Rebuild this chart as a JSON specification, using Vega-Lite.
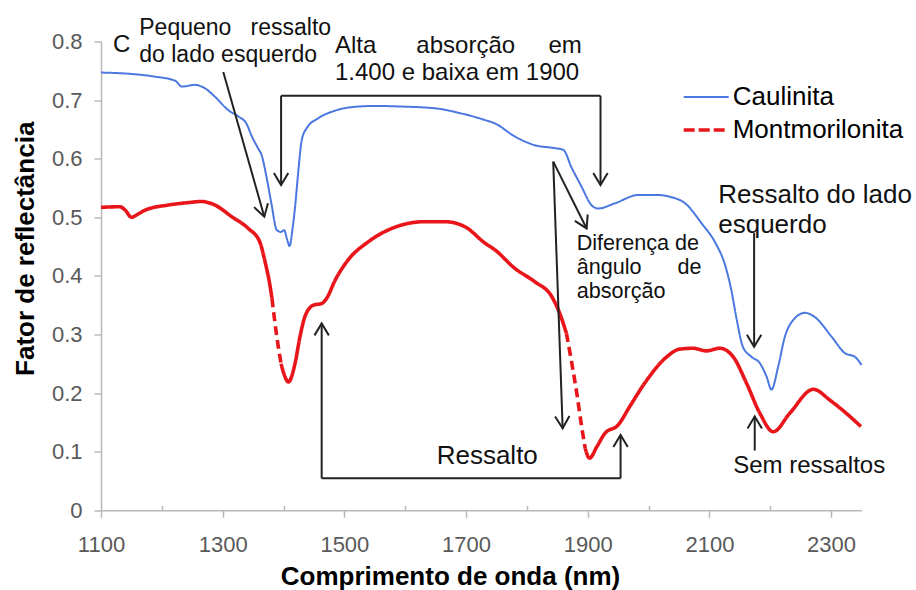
{
  "$schema": "https://vega.github.io/schema/vega-lite/v6.json",
  "autosize": {"type": "none"},
  "width": 760.5,
  "height": 468.8,
  "padding": {"left": 101, "top": 41.5, "right": 54.5, "bottom": 79.7},
  "background": "#ffffff",
  "config": {
    "view": {"stroke": null},
    "font": "Liberation Sans"
  },
  "datasets": {
    "espectros": [
      {"nm": 1100, "r": 0.747, "amostra": "Caulinita", "trecho": "c1", "traco": "continuo"},
      {"nm": 1145, "r": 0.745, "amostra": "Caulinita", "trecho": "c1", "traco": "continuo"},
      {"nm": 1189, "r": 0.740, "amostra": "Caulinita", "trecho": "c1", "traco": "continuo"},
      {"nm": 1222, "r": 0.733, "amostra": "Caulinita", "trecho": "c1", "traco": "continuo"},
      {"nm": 1233, "r": 0.723, "amostra": "Caulinita", "trecho": "c1", "traco": "continuo"},
      {"nm": 1254, "r": 0.726, "amostra": "Caulinita", "trecho": "c1", "traco": "continuo"},
      {"nm": 1271, "r": 0.720, "amostra": "Caulinita", "trecho": "c1", "traco": "continuo"},
      {"nm": 1287, "r": 0.706, "amostra": "Caulinita", "trecho": "c1", "traco": "continuo"},
      {"nm": 1309, "r": 0.683, "amostra": "Caulinita", "trecho": "c1", "traco": "continuo"},
      {"nm": 1326, "r": 0.672, "amostra": "Caulinita", "trecho": "c1", "traco": "continuo"},
      {"nm": 1339, "r": 0.660, "amostra": "Caulinita", "trecho": "c1", "traco": "continuo"},
      {"nm": 1348, "r": 0.638, "amostra": "Caulinita", "trecho": "c1", "traco": "continuo"},
      {"nm": 1358, "r": 0.618, "amostra": "Caulinita", "trecho": "c1", "traco": "continuo"},
      {"nm": 1364, "r": 0.606, "amostra": "Caulinita", "trecho": "c1", "traco": "continuo"},
      {"nm": 1372, "r": 0.569, "amostra": "Caulinita", "trecho": "c1", "traco": "continuo"},
      {"nm": 1380, "r": 0.524, "amostra": "Caulinita", "trecho": "c1", "traco": "continuo"},
      {"nm": 1389, "r": 0.478, "amostra": "Caulinita", "trecho": "c1", "traco": "continuo"},
      {"nm": 1396, "r": 0.475, "amostra": "Caulinita", "trecho": "c1", "traco": "continuo"},
      {"nm": 1401, "r": 0.478, "amostra": "Caulinita", "trecho": "c1", "traco": "continuo"},
      {"nm": 1406, "r": 0.462, "amostra": "Caulinita", "trecho": "c1", "traco": "continuo"},
      {"nm": 1410, "r": 0.451, "amostra": "Caulinita", "trecho": "c1", "traco": "continuo"},
      {"nm": 1415, "r": 0.482, "amostra": "Caulinita", "trecho": "c1", "traco": "continuo"},
      {"nm": 1419, "r": 0.518, "amostra": "Caulinita", "trecho": "c1", "traco": "continuo"},
      {"nm": 1424, "r": 0.575, "amostra": "Caulinita", "trecho": "c1", "traco": "continuo"},
      {"nm": 1430, "r": 0.632, "amostra": "Caulinita", "trecho": "c1", "traco": "continuo"},
      {"nm": 1438, "r": 0.652, "amostra": "Caulinita", "trecho": "c1", "traco": "continuo"},
      {"nm": 1457, "r": 0.669, "amostra": "Caulinita", "trecho": "c1", "traco": "continuo"},
      {"nm": 1485, "r": 0.682, "amostra": "Caulinita", "trecho": "c1", "traco": "continuo"},
      {"nm": 1512, "r": 0.688, "amostra": "Caulinita", "trecho": "c1", "traco": "continuo"},
      {"nm": 1550, "r": 0.690, "amostra": "Caulinita", "trecho": "c1", "traco": "continuo"},
      {"nm": 1594, "r": 0.689, "amostra": "Caulinita", "trecho": "c1", "traco": "continuo"},
      {"nm": 1649, "r": 0.686, "amostra": "Caulinita", "trecho": "c1", "traco": "continuo"},
      {"nm": 1693, "r": 0.677, "amostra": "Caulinita", "trecho": "c1", "traco": "continuo"},
      {"nm": 1731, "r": 0.666, "amostra": "Caulinita", "trecho": "c1", "traco": "continuo"},
      {"nm": 1748, "r": 0.660, "amostra": "Caulinita", "trecho": "c1", "traco": "continuo"},
      {"nm": 1780, "r": 0.638, "amostra": "Caulinita", "trecho": "c1", "traco": "continuo"},
      {"nm": 1813, "r": 0.623, "amostra": "Caulinita", "trecho": "c1", "traco": "continuo"},
      {"nm": 1846, "r": 0.618, "amostra": "Caulinita", "trecho": "c1", "traco": "continuo"},
      {"nm": 1860, "r": 0.615, "amostra": "Caulinita", "trecho": "c1", "traco": "continuo"},
      {"nm": 1873, "r": 0.586, "amostra": "Caulinita", "trecho": "c1", "traco": "continuo"},
      {"nm": 1890, "r": 0.552, "amostra": "Caulinita", "trecho": "c1", "traco": "continuo"},
      {"nm": 1906, "r": 0.521, "amostra": "Caulinita", "trecho": "c1", "traco": "continuo"},
      {"nm": 1917, "r": 0.515, "amostra": "Caulinita", "trecho": "c1", "traco": "continuo"},
      {"nm": 1945, "r": 0.524, "amostra": "Caulinita", "trecho": "c1", "traco": "continuo"},
      {"nm": 1983, "r": 0.538, "amostra": "Caulinita", "trecho": "c1", "traco": "continuo"},
      {"nm": 2016, "r": 0.538, "amostra": "Caulinita", "trecho": "c1", "traco": "continuo"},
      {"nm": 2035, "r": 0.535, "amostra": "Caulinita", "trecho": "c1", "traco": "continuo"},
      {"nm": 2060, "r": 0.524, "amostra": "Caulinita", "trecho": "c1", "traco": "continuo"},
      {"nm": 2087, "r": 0.490, "amostra": "Caulinita", "trecho": "c1", "traco": "continuo"},
      {"nm": 2110, "r": 0.456, "amostra": "Caulinita", "trecho": "c1", "traco": "continuo"},
      {"nm": 2125, "r": 0.421, "amostra": "Caulinita", "trecho": "c1", "traco": "continuo"},
      {"nm": 2136, "r": 0.376, "amostra": "Caulinita", "trecho": "c1", "traco": "continuo"},
      {"nm": 2145, "r": 0.325, "amostra": "Caulinita", "trecho": "c1", "traco": "continuo"},
      {"nm": 2155, "r": 0.279, "amostra": "Caulinita", "trecho": "c1", "traco": "continuo"},
      {"nm": 2169, "r": 0.262, "amostra": "Caulinita", "trecho": "c1", "traco": "continuo"},
      {"nm": 2183, "r": 0.251, "amostra": "Caulinita", "trecho": "c1", "traco": "continuo"},
      {"nm": 2194, "r": 0.228, "amostra": "Caulinita", "trecho": "c1", "traco": "continuo"},
      {"nm": 2202, "r": 0.206, "amostra": "Caulinita", "trecho": "c1", "traco": "continuo"},
      {"nm": 2213, "r": 0.245, "amostra": "Caulinita", "trecho": "c1", "traco": "continuo"},
      {"nm": 2224, "r": 0.296, "amostra": "Caulinita", "trecho": "c1", "traco": "continuo"},
      {"nm": 2238, "r": 0.325, "amostra": "Caulinita", "trecho": "c1", "traco": "continuo"},
      {"nm": 2257, "r": 0.337, "amostra": "Caulinita", "trecho": "c1", "traco": "continuo"},
      {"nm": 2273, "r": 0.330, "amostra": "Caulinita", "trecho": "c1", "traco": "continuo"},
      {"nm": 2301, "r": 0.296, "amostra": "Caulinita", "trecho": "c1", "traco": "continuo"},
      {"nm": 2323, "r": 0.268, "amostra": "Caulinita", "trecho": "c1", "traco": "continuo"},
      {"nm": 2339, "r": 0.262, "amostra": "Caulinita", "trecho": "c1", "traco": "continuo"},
      {"nm": 2350, "r": 0.248, "amostra": "Caulinita", "trecho": "c1", "traco": "continuo"},

      {"nm": 1100, "r": 0.517, "amostra": "Montmorilonita", "trecho": "m1", "traco": "continuo"},
      {"nm": 1131, "r": 0.518, "amostra": "Montmorilonita", "trecho": "m1", "traco": "continuo"},
      {"nm": 1140, "r": 0.512, "amostra": "Montmorilonita", "trecho": "m1", "traco": "continuo"},
      {"nm": 1150, "r": 0.500, "amostra": "Montmorilonita", "trecho": "m1", "traco": "continuo"},
      {"nm": 1160, "r": 0.505, "amostra": "Montmorilonita", "trecho": "m1", "traco": "continuo"},
      {"nm": 1172, "r": 0.512, "amostra": "Montmorilonita", "trecho": "m1", "traco": "continuo"},
      {"nm": 1211, "r": 0.521, "amostra": "Montmorilonita", "trecho": "m1", "traco": "continuo"},
      {"nm": 1243, "r": 0.525, "amostra": "Montmorilonita", "trecho": "m1", "traco": "continuo"},
      {"nm": 1265, "r": 0.527, "amostra": "Montmorilonita", "trecho": "m1", "traco": "continuo"},
      {"nm": 1287, "r": 0.521, "amostra": "Montmorilonita", "trecho": "m1", "traco": "continuo"},
      {"nm": 1315, "r": 0.501, "amostra": "Montmorilonita", "trecho": "m1", "traco": "continuo"},
      {"nm": 1342, "r": 0.481, "amostra": "Montmorilonita", "trecho": "m1", "traco": "continuo"},
      {"nm": 1361, "r": 0.458, "amostra": "Montmorilonita", "trecho": "m1", "traco": "continuo"},
      {"nm": 1369, "r": 0.427, "amostra": "Montmorilonita", "trecho": "m1", "traco": "continuo"},
      {"nm": 1378, "r": 0.382, "amostra": "Montmorilonita", "trecho": "m1", "traco": "continuo"},
      {"nm": 1381, "r": 0.362, "amostra": "Montmorilonita", "trecho": "m1", "traco": "continuo"},
      {"nm": 1381, "r": 0.362, "amostra": "Montmorilonita", "trecho": "m2", "traco": "tracejado"},
      {"nm": 1389, "r": 0.296, "amostra": "Montmorilonita", "trecho": "m2", "traco": "tracejado"},
      {"nm": 1396, "r": 0.250, "amostra": "Montmorilonita", "trecho": "m2", "traco": "tracejado"},
      {"nm": 1396, "r": 0.250, "amostra": "Montmorilonita", "trecho": "m3", "traco": "continuo"},
      {"nm": 1401, "r": 0.232, "amostra": "Montmorilonita", "trecho": "m3", "traco": "continuo"},
      {"nm": 1408, "r": 0.219, "amostra": "Montmorilonita", "trecho": "m3", "traco": "continuo"},
      {"nm": 1419, "r": 0.251, "amostra": "Montmorilonita", "trecho": "m3", "traco": "continuo"},
      {"nm": 1427, "r": 0.296, "amostra": "Montmorilonita", "trecho": "m3", "traco": "continuo"},
      {"nm": 1435, "r": 0.330, "amostra": "Montmorilonita", "trecho": "m3", "traco": "continuo"},
      {"nm": 1449, "r": 0.350, "amostra": "Montmorilonita", "trecho": "m3", "traco": "continuo"},
      {"nm": 1463, "r": 0.353, "amostra": "Montmorilonita", "trecho": "m3", "traco": "continuo"},
      {"nm": 1471, "r": 0.362, "amostra": "Montmorilonita", "trecho": "m3", "traco": "continuo"},
      {"nm": 1485, "r": 0.393, "amostra": "Montmorilonita", "trecho": "m3", "traco": "continuo"},
      {"nm": 1506, "r": 0.427, "amostra": "Montmorilonita", "trecho": "m3", "traco": "continuo"},
      {"nm": 1539, "r": 0.458, "amostra": "Montmorilonita", "trecho": "m3", "traco": "continuo"},
      {"nm": 1583, "r": 0.483, "amostra": "Montmorilonita", "trecho": "m3", "traco": "continuo"},
      {"nm": 1632, "r": 0.4925, "amostra": "Montmorilonita", "trecho": "m3", "traco": "continuo"},
      {"nm": 1665, "r": 0.4925, "amostra": "Montmorilonita", "trecho": "m3", "traco": "continuo"},
      {"nm": 1698, "r": 0.484, "amostra": "Montmorilonita", "trecho": "m3", "traco": "continuo"},
      {"nm": 1731, "r": 0.456, "amostra": "Montmorilonita", "trecho": "m3", "traco": "continuo"},
      {"nm": 1748, "r": 0.444, "amostra": "Montmorilonita", "trecho": "m3", "traco": "continuo"},
      {"nm": 1780, "r": 0.413, "amostra": "Montmorilonita", "trecho": "m3", "traco": "continuo"},
      {"nm": 1813, "r": 0.390, "amostra": "Montmorilonita", "trecho": "m3", "traco": "continuo"},
      {"nm": 1841, "r": 0.3645, "amostra": "Montmorilonita", "trecho": "m3", "traco": "continuo"},
      {"nm": 1854, "r": 0.336, "amostra": "Montmorilonita", "trecho": "m3", "traco": "continuo"},
      {"nm": 1865, "r": 0.302, "amostra": "Montmorilonita", "trecho": "m3", "traco": "continuo"},
      {"nm": 1865, "r": 0.302, "amostra": "Montmorilonita", "trecho": "m4", "traco": "tracejado"},
      {"nm": 1873, "r": 0.256, "amostra": "Montmorilonita", "trecho": "m4", "traco": "tracejado"},
      {"nm": 1882, "r": 0.200, "amostra": "Montmorilonita", "trecho": "m4", "traco": "tracejado"},
      {"nm": 1890, "r": 0.143, "amostra": "Montmorilonita", "trecho": "m4", "traco": "tracejado"},
      {"nm": 1896, "r": 0.105, "amostra": "Montmorilonita", "trecho": "m4", "traco": "tracejado"},
      {"nm": 1896, "r": 0.105, "amostra": "Montmorilonita", "trecho": "m5", "traco": "continuo"},
      {"nm": 1903, "r": 0.089, "amostra": "Montmorilonita", "trecho": "m5", "traco": "continuo"},
      {"nm": 1915, "r": 0.1085, "amostra": "Montmorilonita", "trecho": "m5", "traco": "continuo"},
      {"nm": 1928, "r": 0.131, "amostra": "Montmorilonita", "trecho": "m5", "traco": "continuo"},
      {"nm": 1950, "r": 0.1456, "amostra": "Montmorilonita", "trecho": "m5", "traco": "continuo"},
      {"nm": 1969, "r": 0.177, "amostra": "Montmorilonita", "trecho": "m5", "traco": "continuo"},
      {"nm": 1997, "r": 0.222, "amostra": "Montmorilonita", "trecho": "m5", "traco": "continuo"},
      {"nm": 2030, "r": 0.262, "amostra": "Montmorilonita", "trecho": "m5", "traco": "continuo"},
      {"nm": 2051, "r": 0.275, "amostra": "Montmorilonita", "trecho": "m5", "traco": "continuo"},
      {"nm": 2073, "r": 0.2765, "amostra": "Montmorilonita", "trecho": "m5", "traco": "continuo"},
      {"nm": 2095, "r": 0.272, "amostra": "Montmorilonita", "trecho": "m5", "traco": "continuo"},
      {"nm": 2117, "r": 0.2765, "amostra": "Montmorilonita", "trecho": "m5", "traco": "continuo"},
      {"nm": 2139, "r": 0.262, "amostra": "Montmorilonita", "trecho": "m5", "traco": "continuo"},
      {"nm": 2161, "r": 0.217, "amostra": "Montmorilonita", "trecho": "m5", "traco": "continuo"},
      {"nm": 2183, "r": 0.1655, "amostra": "Montmorilonita", "trecho": "m5", "traco": "continuo"},
      {"nm": 2205, "r": 0.134, "amostra": "Montmorilonita", "trecho": "m5", "traco": "continuo"},
      {"nm": 2232, "r": 0.1655, "amostra": "Montmorilonita", "trecho": "m5", "traco": "continuo"},
      {"nm": 2271, "r": 0.2065, "amostra": "Montmorilonita", "trecho": "m5", "traco": "continuo"},
      {"nm": 2298, "r": 0.188, "amostra": "Montmorilonita", "trecho": "m5", "traco": "continuo"},
      {"nm": 2325, "r": 0.1655, "amostra": "Montmorilonita", "trecho": "m5", "traco": "continuo"},
      {"nm": 2349, "r": 0.143, "amostra": "Montmorilonita", "trecho": "m5", "traco": "continuo"}
    ],
    "setas": [
      {"x": 1301, "y": 0.748, "x2": 1368.4, "y2": 0.501, "ponta": true},
      {"x": 1396, "y": 0.7075, "x2": 1396, "y2": 0.555, "ponta": true},
      {"x": 1396, "y": 0.7075, "x2": 1921, "y2": 0.7075, "ponta": false},
      {"x": 1921, "y": 0.7075, "x2": 1921, "y2": 0.555, "ponta": true},
      {"x": 1843.3, "y": 0.595, "x2": 1898.2, "y2": 0.481, "ponta": true},
      {"x": 1843.3, "y": 0.595, "x2": 1858.8, "y2": 0.140, "ponta": true},
      {"x": 1462.7, "y": 0.0546, "x2": 1462.7, "y2": 0.319, "ponta": true},
      {"x": 1462.7, "y": 0.0546, "x2": 1954, "y2": 0.0546, "ponta": false},
      {"x": 1954, "y": 0.0546, "x2": 1954, "y2": 0.1285, "ponta": true},
      {"x": 2173.5, "y": 0.473, "x2": 2173.5, "y2": 0.279, "ponta": true},
      {"x": 2174.5, "y": 0.102, "x2": 2174.5, "y2": 0.160, "ponta": true}
    ],
    "textos": [
      {"nm": 1119.7, "r": 0.782, "texto": "C", "grupo": "g24"},
      {"nm": 1162.9, "r": 0.811, "texto": "Pequeno\u00a0\u00a0\u00a0ressalto\ndo lado esquerdo", "grupo": "g23"},
      {"nm": 1484.6, "r": 0.781, "texto": "Alta\u00a0\u00a0\u00a0\u00a0\u00a0\u00a0absorção\u00a0\u00a0\u00a0\u00a0\u00a0em\n1.400 e baixa em 1900", "grupo": "g24"},
      {"nm": 2114.5, "r": 0.524, "texto": "Ressalto do lado\nesquerdo", "grupo": "g26"},
      {"nm": 1881.8, "r": 0.4442, "texto": "Diferença de\nângulo\u00a0\u00a0\u00a0\u00a0\u00a0\u00a0de\nabsorção", "grupo": "g21"},
      {"nm": 1651.7, "r": 0.079, "texto": "Ressalto", "grupo": "g26"},
      {"nm": 2139, "r": 0.0631, "texto": "Sem ressaltos", "grupo": "g24"}
    ]
  },
  "layer": [
    {
      "data": {"name": "espectros"},
      "mark": {"type": "line", "interpolate": "monotone", "strokeCap": "butt"},
      "encoding": {
        "x": {
          "field": "nm", "type": "quantitative",
          "scale": {"domain": [1100, 2350], "nice": false, "zero": false},
          "axis": {
            "values": [1100, 1150, 1200, 1250, 1300, 1350, 1400, 1450, 1500, 1550, 1600, 1650, 1700, 1750, 1800, 1850, 1900, 1950, 2000, 2050, 2100, 2150, 2200, 2250, 2300, 2350],
            "labelExpr": "datum.value % 200 == 100 ? datum.label : ''",
            "format": "d",
            "grid": false,
            "title": "Comprimento de onda (nm)",
            "titleFont": "Liberation Sans", "titleFontWeight": "bold", "titleFontSize": 26, "titleColor": "#000000",
            "titleX": 349, "titleY": 74, "titleBaseline": "alphabetic", "titleAlign": "center", "titleAnchor": null,
            "labelFont": "Liberation Sans", "labelFontSize": 22, "labelColor": "#595959",
            "labelBaseline": "alphabetic", "labelPadding": 33.7, "labelFlush": false, "labelOverlap": false,
            "tickSize": {"condition": {"test": "datum.value % 200 == 100", "value": 7}, "value": -5},
            "tickColor": "#b8b8b8", "tickWidth": 1.5,
            "domainColor": "#b8b8b8", "domainWidth": 1.5
          }
        },
        "y": {
          "field": "r", "type": "quantitative",
          "scale": {"domain": [0, 0.8], "nice": false},
          "axis": {
            "values": [0, 0.1, 0.2, 0.3, 0.4, 0.5, 0.6, 0.7, 0.8],
            "format": ".1~f",
            "grid": false,
            "title": "Fator de reflectância",
            "titleFont": "Liberation Sans", "titleFontWeight": "bold", "titleFontSize": 26, "titleColor": "#000000",
            "titleAngle": -90, "titleX": -68, "titleY": 206.8, "titleBaseline": "alphabetic", "titleAlign": "center", "titleAnchor": null,
            "labelFont": "Liberation Sans", "labelFontSize": 22, "labelColor": "#595959",
            "labelPadding": 12, "labelFlush": false, "labelOverlap": false,
            "tickSize": 7, "tickColor": "#b8b8b8", "tickWidth": 1.5,
            "domainColor": "#b8b8b8", "domainWidth": 1.5
          }
        },
        "color": {
          "field": "amostra", "type": "nominal",
          "scale": {"domain": ["Caulinita", "Montmorilonita"], "range": ["#4a78e0", "#e8161b"]},
          "legend": {
            "title": null,
            "orient": "none", "legendX": 580.7, "legendY": 39,
            "padding": 0, "offset": 0,
            "symbolType": "stroke", "symbolSize": 2025, "symbolStrokeWidth": 2,
            "labelFont": "Liberation Sans", "labelFontSize": 26, "labelColor": "#000000", "labelOffset": 2,
            "labelLimit": 400,
            "clipHeight": 33, "rowPadding": 0,
            "encode": {
              "symbols": {
                "update": {
                  "strokeDash": {"signal": "datum.label == 'Montmorilonita' ? [11, 4] : [1, 0]"},
                  "strokeWidth": {"signal": "datum.label == 'Montmorilonita' ? 4 : 2"}
                }
              }
            }
          }
        },
        "strokeWidth": {
          "field": "amostra", "type": "nominal",
          "scale": {"domain": ["Caulinita", "Montmorilonita"], "range": [2, 3.6]},
          "legend": null
        },
        "strokeDash": {
          "field": "traco", "type": "nominal",
          "scale": {"domain": ["continuo", "tracejado"], "range": [[1, 0], [9, 5]]},
          "legend": null
        },
        "detail": {"field": "trecho"}
      }
    },
    {
      "data": {"name": "setas"},
      "mark": {"type": "rule", "color": "#222222", "strokeWidth": 2},
      "encoding": {
        "x": {"field": "x", "type": "quantitative"},
        "x2": {"field": "x2"},
        "y": {"field": "y", "type": "quantitative"},
        "y2": {"field": "y2"}
      }
    },
    {
      "data": {"name": "setas"},
      "transform": [
        {"filter": "datum.ponta"},
        {"calculate": "atan2((datum.y - datum.y2) * 586, (datum.x2 - datum.x) * 0.6084) * 180 / PI", "as": "angulo"}
      ],
      "mark": {
        "type": "point", "shape": "M-1,-0.6L0,0L-1,0.6", "filled": false,
        "stroke": "#222222", "strokeWidth": 2, "opacity": 1, "size": 576, "strokeJoin": "miter"
      },
      "encoding": {
        "x": {"field": "x2", "type": "quantitative"},
        "y": {"field": "y2", "type": "quantitative"},
        "angle": {"field": "angulo", "type": "quantitative", "scale": null}
      }
    },
    {
      "data": {"name": "textos"},
      "transform": [{"filter": "datum.grupo == 'g21'"}],
      "mark": {"type": "text", "align": "left", "baseline": "alphabetic", "lineBreak": "\n", "lineHeight": 24, "font": "Liberation Sans", "fontSize": 21.6, "color": "#111111"},
      "encoding": {
        "x": {"field": "nm", "type": "quantitative"},
        "y": {"field": "r", "type": "quantitative"},
        "text": {"field": "texto"}
      }
    },
    {
      "data": {"name": "textos"},
      "transform": [{"filter": "datum.grupo == 'g23'"}],
      "mark": {"type": "text", "align": "left", "baseline": "alphabetic", "lineBreak": "\n", "lineHeight": 27.3, "font": "Liberation Sans", "fontSize": 23, "color": "#111111"},
      "encoding": {
        "x": {"field": "nm", "type": "quantitative"},
        "y": {"field": "r", "type": "quantitative"},
        "text": {"field": "texto"}
      }
    },
    {
      "data": {"name": "textos"},
      "transform": [{"filter": "datum.grupo == 'g24'"}],
      "mark": {"type": "text", "align": "left", "baseline": "alphabetic", "lineBreak": "\n", "lineHeight": 27.3, "font": "Liberation Sans", "fontSize": 24, "color": "#111111"},
      "encoding": {
        "x": {"field": "nm", "type": "quantitative"},
        "y": {"field": "r", "type": "quantitative"},
        "text": {"field": "texto"}
      }
    },
    {
      "data": {"name": "textos"},
      "transform": [{"filter": "datum.grupo == 'g26'"}],
      "mark": {"type": "text", "align": "left", "baseline": "alphabetic", "lineBreak": "\n", "lineHeight": 30, "font": "Liberation Sans", "fontSize": 26, "color": "#111111"},
      "encoding": {
        "x": {"field": "nm", "type": "quantitative"},
        "y": {"field": "r", "type": "quantitative"},
        "text": {"field": "texto"}
      }
    }
  ]
}
